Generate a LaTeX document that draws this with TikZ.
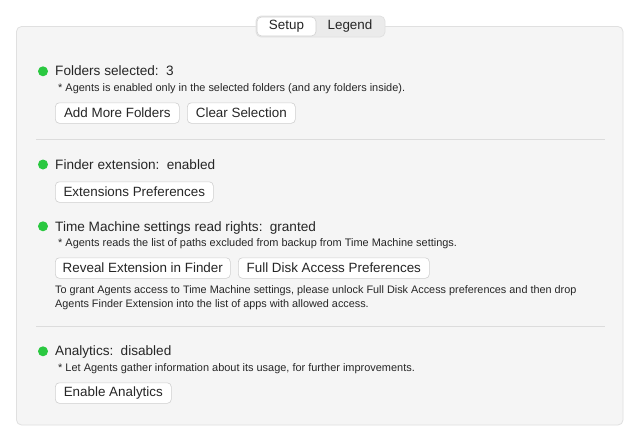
\documentclass[tikz,border=0pt]{standalone}
\usepackage{fontspec}
\setmainfont{Liberation Sans}
\definecolor{panelfill}{HTML}{F5F5F5}
\definecolor{panelline}{HTML}{E0E0E0}
\definecolor{sepline}{HTML}{DCDCDC}
\definecolor{txt}{HTML}{262626}
\definecolor{okgreen}{HTML}{2AC840}
\definecolor{btnline}{HTML}{D0D0D0}
\definecolor{segfill}{HTML}{EBEBEB}
\tikzset{
  x=1pt, y=-1pt,
  title/.style={anchor=base west, inner sep=0pt, text=txt, font=\fontsize{13.6}{16}\selectfont},
  note/.style={anchor=base west, inner sep=0pt, text=txt, font=\fontsize{10.95}{12}\selectfont},
  para/.style={anchor=base west, inner sep=0pt, text=txt, font=\fontsize{10.85}{12}\selectfont},
  btn/.style={draw=btnline, line width=0.6pt, fill=white, rounded corners=4pt, anchor=north west,
    minimum height=20.5pt, inner sep=0pt, text=txt, font=\fontsize{13.4}{16}\selectfont},
  dot/.style={circle, fill=okgreen, minimum size=10pt, inner sep=0pt},
  sep/.style={draw=sepline, line width=0.8pt},
  seglabel/.style={inner sep=0pt, text=txt, font=\fontsize{13.4}{16}\selectfont}
}
\begin{document}
\begin{tikzpicture}
\useasboundingbox (0,0) rectangle (640,442);
\fill[white] (0,0) rectangle (640,442);
% panel
\draw[fill=panelfill, draw=panelline, line width=0.8pt, rounded corners=5pt] (16.5,26.5) rectangle (623,425);
% segmented control
\draw[fill=segfill, draw=panelline, line width=0.7pt, rounded corners=5pt] (256,16) rectangle (385,37);
\draw[fill=white, draw=btnline, line width=0.6pt, rounded corners=4.5pt] (257,17) rectangle (316,36);
\node[seglabel] (setup) at (286.5,26.5) {Setup};
\node[seglabel] (legend) at (350,26.5) {Legend};

% section 1
\node[dot] (d1) at (43,71.3) {};
\node[title] (t1) at (55,75.8) {Folders selected:\, 3};
\node[note] (n1) at (58,91.5) {* Agents is enabled only in the selected folders (and any folders inside).};
\node[btn, minimum width=124pt] (b1) at (55,102.5) {Add More Folders};
\node[btn, minimum width=108pt] (b2) at (187,102.5) {Clear Selection};
\coordinate (s1a) at (36,139);
\coordinate (s1b) at (605,139);
\draw[sep] (s1a) -- (s1b);

% section 2
\node[dot] (d2) at (43,164.5) {};
\node[title] (t2) at (55,169.3) {Finder extension:\, enabled};
\node[btn, minimum width=158pt] (b3) at (55,181.5) {Extensions Preferences};

% section 3
\node[dot] (d3) at (43,226.3) {};
\node[title] (t3) at (55,231) {Time Machine settings read rights:\, granted};
\node[note] (n3) at (58,246.2) {* Agents reads the list of paths excluded from backup from Time Machine settings.};
\node[btn, minimum width=175pt] (b4) at (55,257.5) {Reveal Extension in Finder};
\node[btn, minimum width=191pt] (b5) at (238,257.5) {Full Disk Access Preferences};
\node[para] (p1) at (55,293.8) {To grant Agents access to Time Machine settings, please unlock Full Disk Access preferences and then drop};
\node[para] (p2) at (55,307.5) {Agents Finder Extension into the list of apps with allowed access.};
\coordinate (s2a) at (36,326);
\coordinate (s2b) at (605,326);
\draw[sep] (s2a) -- (s2b);

% section 4
\node[dot] (d4) at (43,351.3) {};
\node[title] (t4) at (55,355.8) {Analytics:\, disabled};
\node[note] (n4) at (58,371.2) {* Let Agents gather information about its usage, for further improvements.};
\node[btn, minimum width=116pt] (b6) at (55,382.5) {Enable Analytics};
\end{tikzpicture}
\end{document}
